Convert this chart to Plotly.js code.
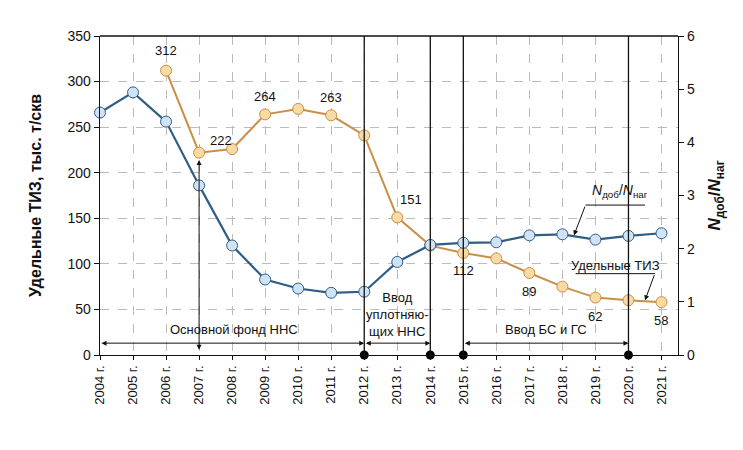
<!DOCTYPE html>
<html>
<head>
<meta charset="utf-8">
<script src="https://cdn.plot.ly/plotly-3.0.1.min.js"></script>
<style>html,body{margin:0;padding:0;background:#fff;}#chart{width:743px;height:450px;}</style>
</head>
<body>
<div id="chart"></div>
<script>
const years = [2004,2005,2006,2007,2008,2009,2010,2011,2012,2013,2014,2015,2016,2017,2018,2019,2020,2021];
const tickLabels = years.map(y => y + ' г.');
// Nдоб/Nнаг (right axis)
const ratio = [4.56,4.94,4.39,3.19,2.06,1.42,1.25,1.17,1.19,1.75,2.07,2.11,2.12,2.25,2.27,2.17,2.24,2.29];
// Удельные ТИЗ, тыс. т/скв (left axis)
const tizYears = [2006,2007,2008,2009,2010,2011,2012,2013,2014,2015,2016,2017,2018,2019,2020,2021];
const tiz = [312,222,226,264,270,263,241,151,120,112,106,90,75,63,60,58];
const labelYears = [2006,2007,2009,2011,2013,2015,2017,2019,2021];
const labelVals = [312,222,264,263,151,112,89,62,58];
const eventYears = [2012,2014,2015,2020];

const FONT = 'Liberation Sans Narrow, Liberation Sans, Arial, sans-serif';
const BLUE = '#2f5d86', BLUE_FILL = '#cfe3f5';
const ORANGE = '#c98f48', ORANGE_FILL = '#f8dba4';

const traces = [
  {x: years, y: ratio, yaxis: 'y2', type: 'scatter', mode: 'lines+markers',
   line: {color: BLUE, width: 2.2},
   marker: {size: 11, color: BLUE_FILL, line: {color: BLUE, width: 1}}, cliponaxis: false},
  {x: tizYears, y: tiz, type: 'scatter', mode: 'lines+markers',
   line: {color: ORANGE, width: 2},
   marker: {size: 11, color: ORANGE_FILL, line: {color: ORANGE, width: 1}}, cliponaxis: false},
  {x: eventYears, y: eventYears.map(() => 0), type: 'scatter', mode: 'markers',
   marker: {size: 9, color: '#000'}, cliponaxis: false}
];

const shapes = [];
eventYears.forEach(y => shapes.push({type: 'line', xref: 'x', yref: 'y', x0: y, x1: y, y0: 0, y1: 350, line: {color: '#111', width: 1.3}}));

const annotations = [];
// point labels
const labelOffsets = {2006:[0,-20],2007:[22,-12],2009:[0,-18],2011:[0,-18],2013:[14,-18],2015:[0,18],2017:[0,18],2019:[0,18],2021:[0,18]};
labelYears.forEach((yr, i) => {
  const o = labelOffsets[yr];
  annotations.push({x: yr, y: labelVals[i], xref: 'x', yref: 'y', text: String(labelVals[i]), showarrow: false,
    xshift: o[0], yshift: -o[1], font: {family: FONT, size: 13, color: '#111'}});
});
// period arrows
function dblArrow(x0, x1, y) {
  annotations.push({x: x1, y: y, ax: x0, ay: y, xref: 'x', yref: 'y', axref: 'x', ayref: 'y', text: '',
    showarrow: true, arrowhead: 2, startarrowhead: 2, arrowside: 'end+start', arrowsize: 1, arrowwidth: 1, arrowcolor: '#111',
    standoff: 0, startstandoff: 0});
}
dblArrow(2004, 2012, 13);
dblArrow(2012, 2014, 13);
dblArrow(2015, 2020, 13);
// 2007 vertical arrow
annotations.push({x: 2007, y: 214, ax: 2007, ay: 4, xref: 'x', yref: 'y', axref: 'x', ayref: 'y', text: '',
  showarrow: true, arrowhead: 2, startarrowhead: 2, arrowside: 'end+start', arrowsize: 1, arrowwidth: 1, arrowcolor: '#111'});
const pf = {family: FONT, size: 13, color: '#111'};
annotations.push({x: 2008.05, y: 28, xref: 'x', yref: 'y', text: 'Основной фонд ННС', showarrow: false, font: pf});
annotations.push({x: 2013, y: 44, xref: 'x', yref: 'y', text: 'Ввод<br>уплотняю-<br>щих ННС', showarrow: false, font: pf});
annotations.push({x: 2017.5, y: 28, xref: 'x', yref: 'y', text: 'Ввод БС и ГС', showarrow: false, font: pf});
// series labels
annotations.push({x: 2019.75, y: 3.08, xref: 'x', yref: 'y2', text: '<i>N</i><sub>доб</sub>/<i>N</i><sub>наг</sub>', showarrow: false, font: {family: FONT, size: 14, color: '#111'}});
shapes.push({type: 'line', xref: 'x', yref: 'y2', x0: 2018.7, x1: 2020.5, y0: 2.82, y1: 2.82, line: {color: '#111', width: 1}});
annotations.push({x: 2018.35, y: 2.25, ax: 2018.7, ay: 2.82, xref: 'x', yref: 'y2', axref: 'x', ayref: 'y2', text: '', showarrow: true,
  arrowhead: 2, arrowsize: 1, arrowwidth: 1, arrowcolor: '#111', standoff: 0});
annotations.push({x: 2019.6, y: 1.69, xref: 'x', yref: 'y2', text: 'Удельные ТИЗ', showarrow: false, font: pf});
shapes.push({type: 'line', xref: 'x', yref: 'y2', x0: 2018.4, x1: 2020.8, y0: 1.53, y1: 1.53, line: {color: '#111', width: 1}});
annotations.push({x: 2020.5, y: 1.03, ax: 2020.8, ay: 1.53, xref: 'x', yref: 'y2', axref: 'x', ayref: 'y2', text: '', showarrow: true,
  arrowhead: 2, arrowsize: 1, arrowwidth: 1, arrowcolor: '#111', standoff: 0});

const layout = {
  width: 743, height: 450,
  margin: {l: 100, r: 65, t: 36, b: 95},
  paper_bgcolor: '#fff', plot_bgcolor: '#fff',
  showlegend: false,
  font: {family: FONT, size: 13, color: '#111'},
  xaxis: {range: [2004, 2021.5], tickvals: years, ticktext: tickLabels, tickangle: -90,
    showgrid: true, gridcolor: '#bbb', griddash: 'dash', gridwidth: 1,
    showline: true, linecolor: '#111', linewidth: 1.3, ticks: 'outside', ticklen: 4, tickcolor: '#111',
    mirror: false, zeroline: false, tickfont: {family: FONT, size: 13}},
  yaxis: {range: [0, 350], dtick: 50, showgrid: true, gridcolor: '#bbb', griddash: 'dash',
    showline: true, linecolor: '#111', linewidth: 1.3, ticks: 'outside', ticklen: 5, tickcolor: '#111', zeroline: false,
    title: {text: '<b>Удельные ТИЗ, тыс. т/скв</b>', font: {family: FONT, size: 16}, standoff: 22},
    tickfont: {family: FONT, size: 14}},
  yaxis2: {range: [0, 6], dtick: 1, overlaying: 'y', side: 'right', showgrid: false,
    showline: true, linecolor: '#111', linewidth: 1.3, ticks: 'outside', ticklen: 5, tickcolor: '#111', zeroline: false,
    title: {text: '<b><i>N</i><sub>доб</sub>/<i>N</i><sub>наг</sub></b>', font: {family: FONT, size: 17}, standoff: 14},
    tickfont: {family: FONT, size: 14}},
  shapes: shapes.concat([{type: 'line', xref: 'paper', yref: 'paper', x0: 0, x1: 1, y0: 1, y1: 1, line: {color: '#111', width: 1.3}}]),
  annotations: annotations
};
Plotly.newPlot('chart', traces, layout, {displayModeBar: false, staticPlot: true});
</script>
</body>
</html>
